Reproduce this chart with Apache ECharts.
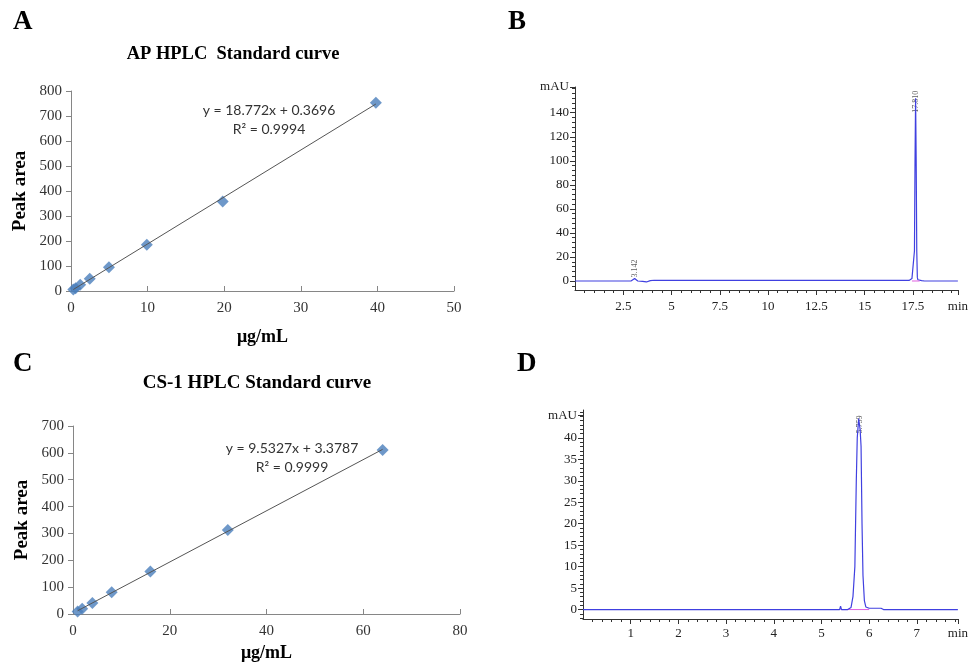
<!DOCTYPE html>
<html>
<head>
<meta charset="utf-8">
<script src="https://cdn.jsdelivr.net/npm/echarts@6/dist/echarts.min.js"></script>
<style>
  html, body { margin: 0; padding: 0; background: #fff; }
  #main { width: 971px; height: 666px; }
</style>
</head>
<body>
<div id="main"></div>
<script>
// ---- A: AP standard curve ----
const apConc = [0.3, 0.6, 1.2, 2.45, 4.95, 9.9, 19.8, 39.8];
const apArea = [6, 11, 25, 49, 95, 185, 358, 753];
const apTrendX = [0.3, 39.8];
const apTrendY = [6, 748];

// ---- C: CS-1 standard curve ----
const csConc = [0.95, 1.9, 4, 8, 16, 32, 64];
const csArea = [9, 20, 41, 81, 158, 313, 611];
const csTrendX = [0.95, 64];
const csTrendY = [12, 613];

// ---- B: AP chromatogram (min, mAU) ----
const bTime = [0, 2.9, 3.0, 3.09, 3.15, 3.25, 3.35, 3.5, 3.7, 3.9, 4.0, 4.1, 5, 10, 13.0, 13.1, 13.2,
  17.3, 17.4, 17.45, 17.5, 17.55, 17.58, 17.61, 17.64, 17.67, 17.7, 17.73, 17.76, 17.8, 17.85, 17.95, 18.1, 19.83];
const bSignal = [0, 0, 0.3, 2.0, 1.0, 0, -1.5, -0.3, -0.8, 0.3, 1.0, 0.6, 0.5, 0.5, 0.5, 1.0, 0.5,
  0.5, 0.8, 2, 0.5, 3, 25, 100, 152, 100, 25, 3, 1, 0.8, 1.5, 0.3, 0, 0];
const bBaseX = [17.45, 17.85];
const bPeakLabels = [[3.09, 3, '3.142'], [17.64, 140, '17.810']];
const bTicks = [0, 20, 40, 60, 80, 100, 120, 140];
const bTimeTicks = [2.5, 5, 7.5, 10, 12.5, 15, 17.5];
const bMax = 161.4, bMin = -7.5, bTimeMax = 19.83;

// ---- D: CS-1 chromatogram ----
const dTime = [0, 5.38, 5.4, 5.42, 5.55, 5.62, 5.66, 5.70, 5.73, 5.75, 5.78, 5.81, 5.83, 5.85, 5.87, 5.90, 5.93, 6.0, 6.25, 6.3, 7.86];
const dSignal = [0, 0, 0.8, 0, 0, 0.5, 3, 10, 30, 40, 44.5, 42, 38, 20, 8, 2, 0.6, 0.3, 0.3, 0, 0];
const dBaseX = [5.4, 6.0];
const dPeakLabels = [[5.8, 41, '5.759']];
const dTicks = [0, 5, 10, 15, 20, 25, 30, 35, 40];
const dTimeTicks = [1, 2, 3, 4, 5, 6, 7];
const dMax = 46.5, dMin = -2.2, dMau = 45.2, dTimeMax = 7.86;

function steps(from, to, step) {
  const out = [];
  for (let v = from; v <= to + 1e-9; v += step) out.push(Math.round(v * 100) / 100);
  return out;
}

const serif = 'Liberation Serif';
const chart = echarts.init(document.getElementById('main'));

const curveX = (grid, max, interval) => ({
  type: 'value', gridIndex: grid, min: 0, max: max, interval: interval,
  axisLine: { onZero: false, lineStyle: { color: '#868686' } },
  axisTick: { inside: true, length: 5, lineStyle: { color: '#868686' } },
  axisLabel: { fontFamily: serif, fontSize: 15, color: '#333', margin: 10 },
  splitLine: { show: false },
  name: 'μg/mL', nameLocation: 'middle',
  nameTextStyle: { fontFamily: serif, fontSize: 18, fontWeight: 'bold', color: '#000' }
});
const curveY = (grid, max) => ({
  type: 'value', gridIndex: grid, min: 0, max: max, interval: 100,
  axisLine: { show: true, onZero: false, lineStyle: { color: '#868686' } },
  axisTick: { show: true, length: 5, lineStyle: { color: '#868686' } },
  axisLabel: { fontFamily: serif, fontSize: 15, color: '#333', margin: 9 },
  splitLine: { show: false },
  name: 'Peak area', nameLocation: 'middle', nameGap: 41,
  nameTextStyle: { fontFamily: serif, fontSize: 19, fontWeight: 'bold', color: '#000' }
});

const chromX = (grid, max, ticks, margin) => ({
  type: 'value', gridIndex: grid, min: 0, max: max, position: 'bottom',
  axisLine: { onZero: false, lineStyle: { color: '#333' } },
  axisTick: { customValues: ticks.concat([max]), length: 5, lineStyle: { color: '#333' } },
  axisLabel: { customValues: ticks.concat([max]), fontFamily: serif, fontSize: 13, color: '#222', margin: margin,
    formatter: v => (v === max ? 'min' : String(v)) },
  splitLine: { show: false }
});
const chromY = (grid, min, max, ticks, mau) => ({
  type: 'value', gridIndex: grid, min: min, max: max, position: 'left',
  axisLine: { show: true, onZero: false, lineStyle: { color: '#333' } },
  axisTick: { show: true, customValues: ticks.concat([mau]), length: 5, lineStyle: { color: '#333' } },
  axisLabel: { customValues: ticks.concat([mau]), fontFamily: serif, fontSize: 13, color: '#222', margin: 6,
    formatter: v => (v === mau ? 'mAU' : String(v)) },
  splitLine: { show: false }
});
const minorX = (grid, max, vals) => ({
  type: 'value', gridIndex: grid, min: 0, max: max, position: 'bottom',
  axisLine: { show: false, onZero: false }, axisLabel: { show: false }, splitLine: { show: false },
  axisTick: { show: true, customValues: vals, length: 3, lineStyle: { color: '#333' } }
});
const minorY = (grid, min, max, vals) => ({
  type: 'value', gridIndex: grid, min: min, max: max, position: 'left',
  axisLine: { show: false, onZero: false }, axisLabel: { show: false }, splitLine: { show: false },
  axisTick: { show: true, customValues: vals, length: 3, lineStyle: { color: '#333' } }
});

const xA = curveX(0, 50, 10); xA.nameGap = 37;
const xC = curveX(2, 80, 20); xC.nameGap = 30;

const blue = '#4040e0';
const pink = '#e060e0';

const option = {
  animation: false,
  backgroundColor: '#fff',
  grid: [
    { left: 71, top: 91, width: 383, height: 200 },
    { left: 575, top: 87, width: 390, height: 203 },
    { left: 73, top: 426, width: 387, height: 188 },
    { left: 583, top: 410, width: 381, height: 209 }
  ],
  xAxis: [
    xA,
    chromX(1, bTimeMax, bTimeTicks, 10),
    minorX(1, bTimeMax, steps(0.5, 19.5, 0.5)),
    xC,
    chromX(3, dTimeMax, dTimeTicks, 8),
    minorX(3, dTimeMax, steps(0.2, 7.8, 0.2))
  ],
  yAxis: [
    curveY(0, 800),
    chromY(1, bMin, bMax, bTicks, bMax),
    minorY(1, bMin, bMax, steps(-4, 160, 4)),
    curveY(2, 700),
    chromY(3, dMin, dMax, dTicks, dMau),
    minorY(3, dMin, dMax, steps(-2, 46, 1))
  ],
  series: [
    {
      type: 'scatter', xAxisIndex: 0, yAxisIndex: 0, symbol: 'diamond', symbolSize: 12,
      itemStyle: { color: '#4a7ebb' },
      data: apConc.map((c, i) => [c, apArea[i]])
    },
    {
      type: 'line', xAxisIndex: 0, yAxisIndex: 0, showSymbol: false, z: 3,
      lineStyle: { color: '#555', width: 1 },
      data: apTrendX.map((c, i) => [c, apTrendY[i]])
    },
    {
      type: 'line', xAxisIndex: 1, yAxisIndex: 1, showSymbol: false,
      lineStyle: { color: blue, width: 1.2 },
      data: bTime.map((t, i) => [t, bSignal[i]])
    },
    {
      type: 'line', xAxisIndex: 1, yAxisIndex: 1, showSymbol: false,
      lineStyle: { color: pink, width: 1 },
      data: bBaseX.map(t => [t, 0])
    },
    {
      type: 'scatter', xAxisIndex: 1, yAxisIndex: 1, symbolSize: 0,
      data: bPeakLabels.map(p => ({ value: [p[0], p[1]], name: p[2] })),
      label: {
        show: true, position: 'inside', rotate: 90, align: 'left', verticalAlign: 'middle',
        formatter: p => p.name, fontFamily: serif, fontSize: 8, color: '#333'
      }
    },
    {
      type: 'scatter', xAxisIndex: 3, yAxisIndex: 3, symbol: 'diamond', symbolSize: 12,
      itemStyle: { color: '#4a7ebb' },
      data: csConc.map((c, i) => [c, csArea[i]])
    },
    {
      type: 'line', xAxisIndex: 3, yAxisIndex: 3, showSymbol: false, z: 3,
      lineStyle: { color: '#555', width: 1 },
      data: csTrendX.map((c, i) => [c, csTrendY[i]])
    },
    {
      type: 'line', xAxisIndex: 4, yAxisIndex: 4, showSymbol: false,
      lineStyle: { color: pink, width: 1 },
      data: dBaseX.map(t => [t, 0])
    },
    {
      type: 'line', xAxisIndex: 4, yAxisIndex: 4, showSymbol: false,
      lineStyle: { color: blue, width: 1.2 },
      data: dTime.map((t, i) => [t, dSignal[i]])
    },
    {
      type: 'scatter', xAxisIndex: 4, yAxisIndex: 4, symbolSize: 0,
      data: dPeakLabels.map(p => ({ value: [p[0], p[1]], name: p[2] })),
      label: {
        show: true, position: 'inside', rotate: 90, align: 'left', verticalAlign: 'middle',
        formatter: p => p.name, fontFamily: serif, fontSize: 8, color: '#333'
      }
    }
  ],
  graphic: [
    { type: 'text', x: 13, y: 9, style: { text: 'A', font: 'bold 27px "Liberation Serif"', fill: '#000' } },
    { type: 'text', x: 508, y: 9, style: { text: 'B', font: 'bold 27px "Liberation Serif"', fill: '#000' } },
    { type: 'text', x: 13, y: 351, style: { text: 'C', font: 'bold 27px "Liberation Serif"', fill: '#000' } },
    { type: 'text', x: 517, y: 351, style: { text: 'D', font: 'bold 27px "Liberation Serif"', fill: '#000' } },
    { type: 'text', x: 233, y: 54, style: { text: 'AP HPLC  Standard curve', align: 'center', verticalAlign: 'middle', font: 'bold 18.5px "Liberation Serif"', fill: '#000' } },
    { type: 'text', x: 257, y: 383, style: { text: 'CS-1 HPLC Standard curve', align: 'center', verticalAlign: 'middle', font: 'bold 19px "Liberation Serif"', fill: '#000' } },
    { type: 'text', x: 269, y: 110, style: { text: 'y = 18.772x + 0.3696', align: 'center', verticalAlign: 'middle', font: '14px Lato', fill: '#333' } },
    { type: 'text', x: 269, y: 129, style: { text: 'R² = 0.9994', align: 'center', verticalAlign: 'middle', font: '14px Lato', fill: '#333' } },
    { type: 'text', x: 292, y: 448, style: { text: 'y = 9.5327x + 3.3787', align: 'center', verticalAlign: 'middle', font: '14px Lato', fill: '#333' } },
    { type: 'text', x: 292, y: 467, style: { text: 'R² = 0.9999', align: 'center', verticalAlign: 'middle', font: '14px Lato', fill: '#333' } }
  ]
};

chart.setOption(option);
</script>
</body>
</html>
